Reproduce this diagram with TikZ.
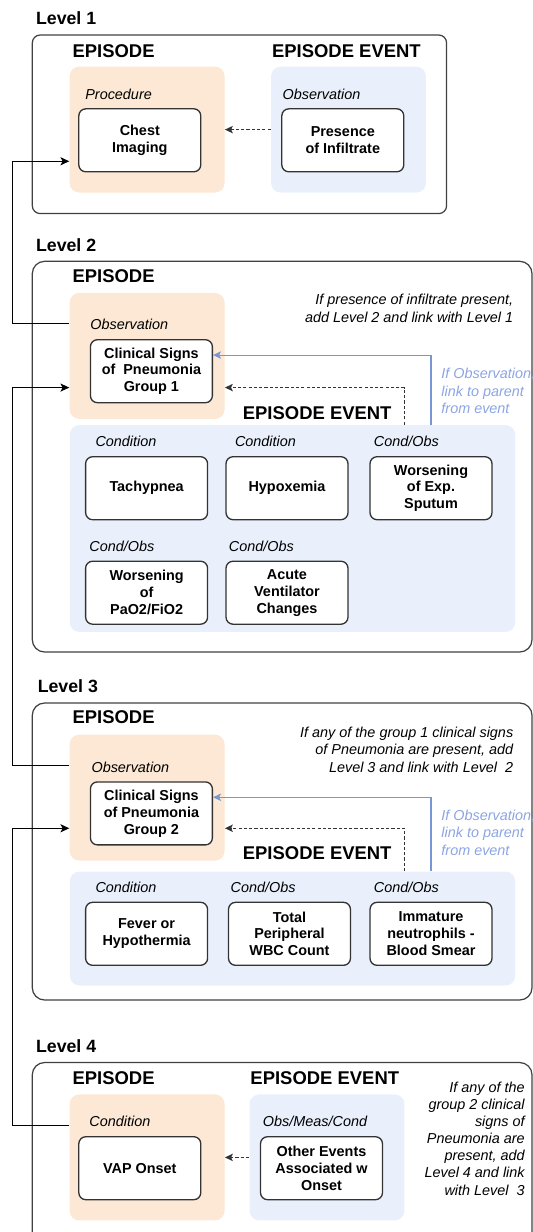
\documentclass[tikz,border=0pt]{standalone}
\usepackage{fontspec}
\setmainfont{Liberation Sans}
\usetikzlibrary{arrows.meta,calc,positioning}

\definecolor{procfill}{HTML}{FCE8D4}
\definecolor{eventfill}{HTML}{E9F0FC}
\definecolor{obsblue}{HTML}{7A96D2}
\definecolor{obstext}{HTML}{8CA5E1}

\tikzset{
  levelbox/.style={draw=black!75, line width=0.7pt, rounded corners=7pt},
  levellabel/.style={font=\fontsize{10.1}{12}\selectfont\bfseries, anchor=base west, inner sep=0pt},
  heading/.style={font=\fontsize{10.5}{12}\selectfont\bfseries, anchor=base, inner sep=0pt},
  episodepanel/.style={fill=procfill, rounded corners=5.5pt, minimum width=3.1cm, minimum height=2.52cm, inner sep=0pt},
  eventpanel/.style={fill=eventfill, rounded corners=5.5pt, minimum width=3.1cm, minimum height=2.52cm, inner sep=0pt},
  item/.style={draw=black!80, fill=white, line width=0.75pt, rounded corners=4pt,
    minimum width=2.44cm, minimum height=1.26cm, align=center, inner sep=1pt,
    font=\fontsize{8.2}{9.6}\selectfont\bfseries},
  kind/.style={font=\fontsize{8.2}{9.6}\selectfont\itshape, anchor=base west, inner sep=0pt},
  % multi-line notes are placed by the baseline of their last line
  note/.style={font=\fontsize{8.2}{10.3}\selectfont\itshape, align=right, anchor=base east, inner sep=0pt},
  obsnote/.style={font=\fontsize{8.2}{10}\selectfont\itshape, align=left, anchor=base west, inner sep=0pt, text=obstext},
  uplink/.style={draw=black, line width=0.6pt, -{Stealth[length=5pt,width=4.6pt,inset=1.2pt]}},
  eventlink/.style={draw=black!80, line width=0.6pt, dash pattern=on 1.8pt off 1.2pt,
    -{Stealth[length=4.5pt,width=4.2pt,inset=1pt]}},
  obslink/.style={draw=obsblue, line width=0.6pt, -{Stealth[length=4.5pt,width=4.2pt,inset=1pt]}},
}

\begin{document}
\begin{tikzpicture}[x=0.02cm, y=-0.02cm]
  \useasboundingbox (0,0) rectangle (533,1232);
  \coordinate (rail) at (12.6,0); % left return line

  % Level 1
  \node[levellabel] (lev1) at (35.7,24.5) {Level 1};
  \draw[levelbox, rounded corners=4.5pt] (32.3,35) rectangle (446.6,213.6);
  \node[heading] (epi1) at (113.6,57.8) {EPISODE};
  \node[heading] (evt1) at (346.4,57.8) {EPISODE EVENT};
  \node[episodepanel] (proc1) at (147.1,129.6) {};
  \node[eventpanel] (obs1) at (348.5,129.6) {};
  \node[kind] (k1a) at (85,99.3) {Procedure};
  \node[kind] (k1b) at (282.3,99.3) {Observation};
  \node[item] (chest) at (139.8,140.3) {Chest\\Imaging};
  \node[item] (infil) at (342.8,140.3) {Presence\\of Infiltrate};
  \draw[eventlink] (obs1.west) -- (proc1.east);
  \coordinate (in1) at ($(proc1.north west)+(0,95)$);

  % Level 2
  \node[levellabel] (lev2) at (35.7,251.1) {Level 2};
  \draw[levelbox] (32.3,261.3) rectangle (532,652);
  \node[heading] (epi2) at (113.6,282.7) {EPISODE};
  \node[episodepanel] (proc2) at (147.1,355.9) {};
  \node[eventpanel, minimum width=8.91cm, minimum height=4.14cm] (evts2) at (292.5,528.5) {};
  \node[heading] (evt2) at (317.2,419.4) {EPISODE EVENT};
  \node[note] (why2) at (513.6,322.5) {If presence of infiltrate present,\\add Level 2 and link with Level 1};
  \node[kind] (k2) at (90.1,329.3) {Observation};
  \node[item] (signs1) at (151.4,371.2) {Clinical Signs\\of~ Pneumonia\\Group 1};
  \node[obsnote] (hint2) at (441.1,413.7) {If Observation,\\link to parent\\from event};

  % Level 2 event row 1
  \node[kind] (k2a) at (95.2,446.2) {Condition};
  \node[kind] (k2b) at (234.7,446.2) {Condition};
  \node[kind] (k2c) at (373.5,446.2) {Cond/Obs};
  \node[item] (tachy) at (146.6,488.2) {Tachypnea};
  \node[item] (hypox) at (287,488.2) {Hypoxemia};
  \node[item] (sputum) at (431,488.2) {Worsening\\of Exp.\\Sputum};
  % Level 2 event row 2
  \node[kind] (k2d) at (89.1,551) {Cond/Obs};
  \node[kind] (k2e) at (228.6,551) {Cond/Obs};
  \node[item] (pao2) at (146.6,592.7) {Worsening\\of\\PaO2/FiO2};
  \node[item] (vent) at (287,592.7) {Acute\\Ventilator\\Changes};

  \coordinate (out2) at ($(proc2.north west)+(0,31)$);
  \coordinate (in2) at ($(proc2.north west)+(0,95)$);
  \draw[uplink] (out2) -- (out2 -| rail) |- (in1);
  \draw[obslink] (sputum.north |- evts2.north) |- ($(signs1.north east)+(0,16)$);
  \draw[eventlink] ($(evts2.north east)+(-111.2,0)$) |- (in2 -| proc2.east);

  % Level 3
  \node[levellabel] (lev3) at (37.4,692.1) {Level 3};
  \draw[levelbox] (32.3,703) rectangle (532,1000);
  \node[heading] (epi3) at (113.6,723.4) {EPISODE};
  \node[episodepanel] (proc3) at (147.1,797.6) {};
  \node[eventpanel, minimum width=8.91cm, minimum height=2.28cm] (evts3) at (292.5,928.5) {};
  \node[heading] (evt3) at (317.2,859.8) {EPISODE EVENT};
  \node[note, font=\fontsize{8.2}{10.1}\selectfont\itshape] (why3) at (513.6,772.7)
    {If any of the group 1 clinical signs\\of Pneumonia are present, add\\Level 3 and link with Level~~2};
  \node[kind] (k3) at (91.2,772) {Observation};
  \node[item] (signs2) at (151.4,813.4) {Clinical Signs\\of Pneumonia\\Group 2};
  \node[obsnote] (hint3) at (441.1,855.4) {If Observation,\\link to parent\\from event};

  % Level 3 event row
  \node[kind] (k3a) at (95.2,892.1) {Condition};
  \node[kind] (k3b) at (230.3,892.1) {Cond/Obs};
  \node[kind] (k3c) at (373.5,892.1) {Cond/Obs};
  \node[item] (fever) at (146.6,933.8) {Fever or\\Hypothermia};
  \node[item] (wbc) at (289.5,933.8) {Total\\Peripheral\\WBC Count};
  \node[item] (smear) at (431,933.8) {Immature\\neutrophils -\\Blood Smear};

  \coordinate (out3) at ($(proc3.north west)+(0,31)$);
  \coordinate (in3) at ($(proc3.north west)+(0,94)$);
  \draw[uplink] (out3) -- (out3 -| rail) |- (in2);
  \draw[obslink] (smear.north |- evts3.north) |- ($(signs2.north east)+(0,16)$);
  \draw[eventlink] ($(evts3.north east)+(-111.2,0)$) |- (in3 -| proc3.east);

  % Level 4
  \node[levellabel] (lev4) at (35.7,1052.3) {Level 4};
  \draw[levelbox] (32.3,1062.5) rectangle (532,1245);
  \node[heading] (epi4) at (113.6,1084.6) {EPISODE};
  \node[heading] (evt4) at (324.8,1084.6) {EPISODE EVENT};
  \node[episodepanel] (proc4) at (147.1,1157.4) {};
  \node[eventpanel] (obs4) at (327,1157.4) {};
  \node[kind] (k4a) at (89.1,1126.1) {Condition};
  \node[kind] (k4b) at (262.6,1126.1) {Obs/Meas/Cond};
  \node[item] (vap) at (139.8,1168.2) {VAP Onset};
  \node[item] (other) at (321.5,1168.2) {Other Events\\Associated w\\Onset};
  \node[note, font=\fontsize{8.2}{9.75}\selectfont\itshape] (why4) at (525,1195)
    {If any of the\\group 2 clinical\\signs of\\Pneumonia are\\present, add\\Level 4 and link\\with Level~~3};
  \draw[eventlink] (obs4.west) -- (proc4.east);

  \coordinate (out4) at ($(proc4.north west)+(0,31)$);
  \draw[uplink] (out4) -- (out4 -| rail) |- (in3);

\end{tikzpicture}
\end{document}
